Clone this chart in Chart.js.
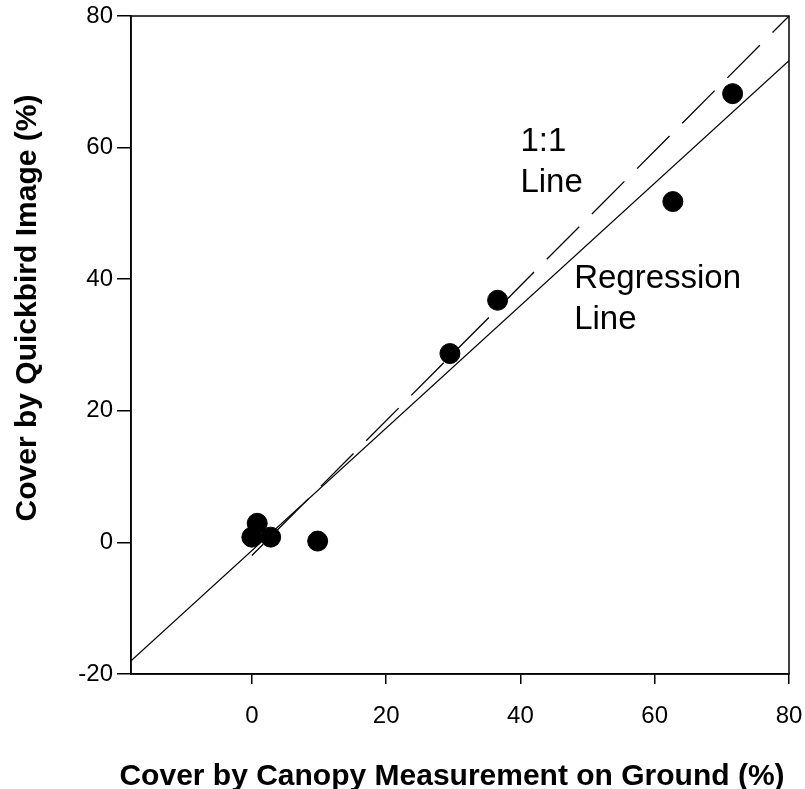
<!DOCTYPE html>
<html>
<head>
<meta charset="utf-8">
<script src="https://cdn.jsdelivr.net/npm/chart.js@4"></script>
<style>
  body { margin: 0; background: #fff; }
  #wrap { width: 805px; height: 789px; }
</style>
</head>
<body>
<div id="wrap"><canvas id="myChart" width="805" height="789"></canvas></div>
<script>
// values
const groundCover = [0, 0.8, 2.8, 9.8, 29.5, 36.6, 62.7, 71.6];
const imageCover = [0.8, 2.9, 0.8, 0.2, 28.7, 36.8, 51.8, 68.2];
const regressionX = [-18, 80];
const regressionY = [-18, 73.2];
const oneToOneX = [0, 80];
const oneToOneY = [-2, 80];
const xTicks = [0, 20, 40, 60, 80];
const yTicks = [-20, 0, 20, 40, 60, 80];
const xTitle = 'Cover by Canopy Measurement on Ground (%)';
const yTitle = 'Cover by Quickbird Image (%)';
const noteText = [['1:1', 'Line'], ['Regression', 'Line']];
const noteX = [40, 48];
const noteY = [59.5, 38.7];

Chart.defaults.font.family = '"Liberation Sans", Arial, Helvetica, sans-serif';
Chart.defaults.color = '#000';

function toPoints(xs, ys) {
    return xs.map((x, i) => ({ x: x, y: ys[i] }));
}

// frame, notes and axis titles
const textPlugin = {
    id: 'textPlugin',
    afterDraw(chart) {
        const ctx = chart.ctx;
        const area = chart.chartArea;
        const xs = chart.scales.x;
        const ys = chart.scales.y;
        ctx.save();
        ctx.strokeStyle = '#000';
        ctx.lineWidth = 1.5;
        ctx.strokeRect(area.left, area.top, area.right - area.left, area.bottom - area.top);

        ctx.fillStyle = '#000';
        ctx.font = '33px "Liberation Sans", Arial, sans-serif';
        ctx.textAlign = 'left';
        ctx.textBaseline = 'alphabetic';
        noteText.forEach((lines, i) => {
            const px = xs.getPixelForValue(noteX[i]);
            const py = ys.getPixelForValue(noteY[i]);
            lines.forEach((t, j) => ctx.fillText(t, px, py + j * 41.5));
        });

        ctx.font = 'bold 30px "Liberation Sans", Arial, sans-serif';
        ctx.textAlign = 'center';
        ctx.fillText(xTitle, 452, 785);

        ctx.translate(36, 308);
        ctx.rotate(-Math.PI / 2);
        ctx.fillText(yTitle, 0, 0);
        ctx.restore();
    }
};

function noEdgePadding(scale) {
    scale.paddingLeft = 0;
    scale.paddingRight = 0;
    scale.paddingTop = 0;
    scale.paddingBottom = 0;
}

const ctx = document.getElementById('myChart').getContext('2d');
new Chart(ctx, {
    type: 'scatter',
    data: {
        datasets: [
            {
                label: 'Sites',
                data: toPoints(groundCover, imageCover),
                pointRadius: 10,
                pointBackgroundColor: '#000',
                pointBorderColor: '#000',
                borderWidth: 1,
                order: 0
            },
            {
                label: 'Regression Line',
                type: 'line',
                data: toPoints(regressionX, regressionY),
                borderColor: '#000',
                borderWidth: 1.3,
                pointRadius: 0,
                fill: false,
                order: 1
            },
            {
                label: '1:1 Line',
                type: 'line',
                data: toPoints(oneToOneX, oneToOneY),
                borderColor: '#000',
                borderWidth: 1.3,
                borderDash: [46, 18],
                borderDashOffset: 30,
                pointRadius: 0,
                fill: false,
                order: 1
            }
        ]
    },
    options: {
        responsive: false,
        animation: false,
        layout: { padding: { top: 16, right: 16, left: 0, bottom: 0 } },
        plugins: {
            legend: { display: false },
            tooltip: { enabled: false }
        },
        scales: {
            x: {
                type: 'linear',
                min: -18,
                max: 80,
                afterBuildTicks: scale => { scale.ticks = xTicks.map(v => ({ value: v })); },
                afterFit: scale => { scale.height = 115; noEdgePadding(scale); },
                ticks: { color: '#000', font: { size: 24 }, padding: 18, maxRotation: 0 },
                grid: { drawOnChartArea: false, color: '#000', tickLength: 10, lineWidth: 1.5 },
                border: { color: '#000', width: 1.5 }
            },
            y: {
                type: 'linear',
                min: -20,
                max: 80,
                afterBuildTicks: scale => { scale.ticks = yTicks.map(v => ({ value: v })); },
                afterFit: scale => { scale.width = 131; noEdgePadding(scale); },
                ticks: { color: '#000', font: { size: 24 }, padding: 4 },
                grid: { drawOnChartArea: false, color: '#000', tickLength: 14, lineWidth: 1.5 },
                border: { color: '#000', width: 1.5 }
            }
        }
    },
    plugins: [textPlugin]
});
</script>
</body>
</html>
